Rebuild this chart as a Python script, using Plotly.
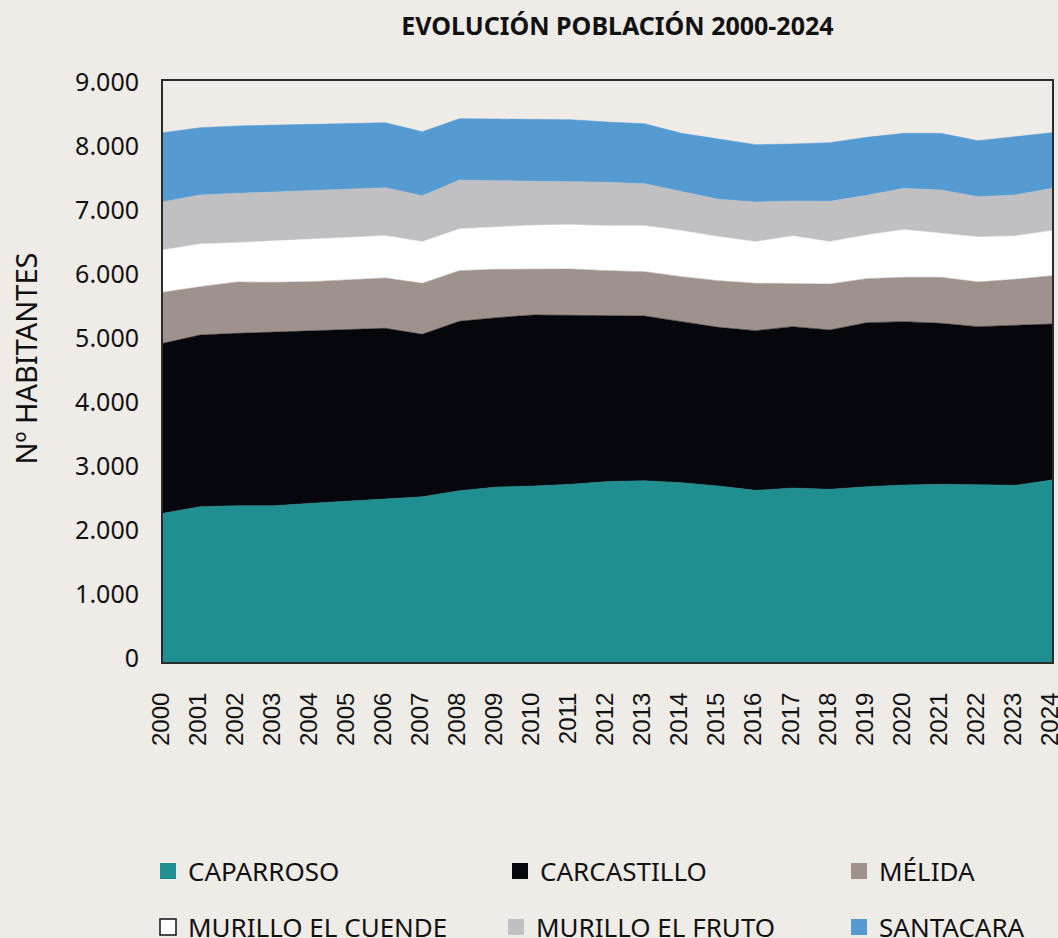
import plotly.graph_objects as go

years = list(range(2000, 2025))

caparroso = [2323, 2427, 2443, 2443, 2479, 2516, 2557, 2583, 2677, 2734, 2750, 2776, 2820,
             2833, 2802, 2750, 2682, 2719, 2698, 2740, 2766, 2776, 2771, 2760, 2844]
carcastillo = [2656, 2682, 2692, 2713, 2693, 2672, 2657, 2537, 2646, 2646, 2672, 2641, 2597,
               2573, 2516, 2479, 2495, 2521, 2490, 2562, 2552, 2516, 2469, 2495, 2437]
melida = [797, 756, 803, 776, 771, 786, 786, 797, 792, 756, 719, 724, 698,
          693, 703, 729, 740, 677, 718, 688, 693, 719, 698, 724, 755]
murillo_cuende = [662, 666, 614, 646, 666, 662, 661, 651, 651, 661, 682, 692, 700,
                  719, 719, 688, 651, 739, 662, 682, 744, 687, 703, 677, 704]
murillo_fruto = [755, 766, 771, 766, 756, 749, 750, 718, 765, 724, 693, 677, 680,
                 656, 609, 583, 620, 547, 630, 620, 646, 677, 630, 641, 661]
santacara = [1078, 1052, 1052, 1042, 1036, 1026, 1016, 1000, 958, 963, 963, 964, 942,
             937, 911, 938, 895, 891, 917, 906, 859, 885, 875, 911, 870]

series = [
    ("CAPARROSO", caparroso, "#1f8f92"),
    ("CARCASTILLO", carcastillo, "#06070c"),
    ("MÉLIDA", melida, "#9f918c"),
    ("MURILLO EL CUENDE", murillo_cuende, "#ffffff"),
    ("MURILLO EL FRUTO", murillo_fruto, "#c0c0c2"),
    ("SANTACARA", santacara, "#559bd2"),
]

# legend slots (left x, centre y) in pixels of the 1058x938 page
leg_pos = [(148, 871), (500, 871), (839, 871), (148, 927), (496, 927), (839, 927)]

W, H = 1058, 938
bg = "#efebe7"
fig = go.Figure()

# stacked areas
for name, vals, color in series:
    fig.add_trace(go.Scatter(
        x=years, y=vals, name=name, stackgroup="pob", mode="lines",
        line=dict(width=0.5, color=color), fillcolor=color, showlegend=False,
    ))

# legend entries, one legend per slot
legends = {}
for i, (name, vals, color) in enumerate(series):
    key = "legend" if i == 0 else "legend%d" % (i + 1)
    fig.add_trace(go.Scatter(
        x=[None], y=[None], name=name, mode="markers", legend=key,
        marker=dict(symbol="square", size=20, color=color,
                    line=dict(width=1.5 if color == "#ffffff" else 0, color="#111111")),
    ))
    px, py = leg_pos[i]
    legends[key] = dict(orientation="h", xref="container", yref="container",
                        xanchor="left", yanchor="middle", x=px / W, y=1 - py / H,
                        bgcolor="rgba(0,0,0,0)", itemsizing="trace",
                        font=dict(family="Noto Sans", size=26, color="#111111"))

fig.update_layout(
    width=W, height=H,
    margin=dict(l=163, r=6, t=81, b=276),
    paper_bgcolor=bg, plot_bgcolor=bg,
    title=dict(text="<b>EVOLUCIÓN POBLACIÓN 2000-2024</b>", x=0.5836, xanchor="center",
               y=0.9725, yanchor="middle",
               font=dict(family="Noto Sans", size=25, color="#111111")),
    xaxis=dict(range=[2000, 2024], tickvals=years, tickangle=-90, showgrid=False, zeroline=False,
               showline=True, mirror=True, linecolor="#2b2b2b", linewidth=2, automargin=False,
               ticks="", ticklabelstandoff=19, ticklabeloverflow="allow", ticklabelshift=-2,
               tickfont=dict(family="Liberation Sans", size=24, color="#111111")),
    yaxis=dict(range=[0, 9078], tickvals=list(range(0, 9001, 1000)),
               ticktext=["0", "1.000", "2.000", "3.000", "4.000", "5.000", "6.000", "7.000",
                         "8.000", "9.000"],
               showgrid=False, zeroline=False, showline=True, mirror=True, automargin=False,
               linecolor="#2b2b2b", linewidth=2, ticks="", ticklabelstandoff=17,
               ticklabelshift=-4,
               tickfont=dict(family="Noto Sans", size=25, color="#111111")),
    annotations=[dict(text="Nº HABITANTES", textangle=-90, xref="paper", yref="paper",
                      x=(25 - 163) / 889, y=(662 - 358.5) / 581, showarrow=False,
                      xanchor="center", yanchor="middle",
                      font=dict(family="Noto Sans", size=29, color="#111111"))],
    **legends,
)

# page without the default body margin, same beige as the figure
fig.write_html("out.html", config={"displayModeBar": False},
               post_script="document.body.style.margin='0';"
                           "document.body.style.background='%s';" % bg)
